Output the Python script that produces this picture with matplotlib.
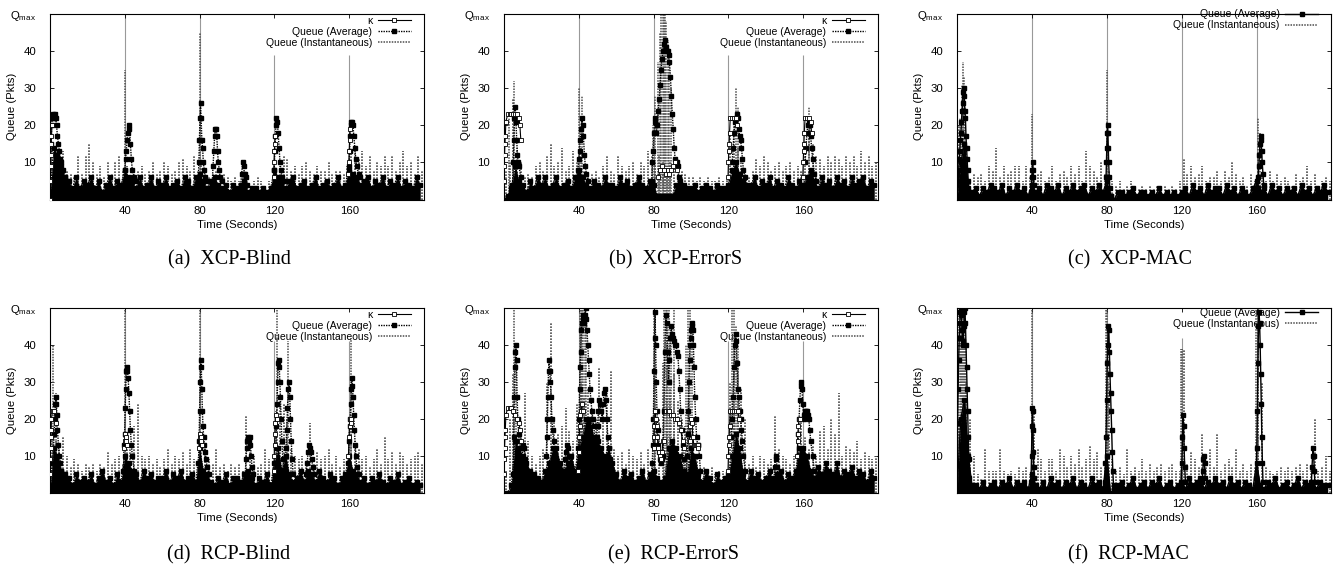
import numpy as np
import matplotlib
matplotlib.use('Agg')
import matplotlib.pyplot as plt
from matplotlib.lines import Line2D

plt.rcParams['font.family'] = ['Liberation Sans', 'DejaVu Sans']
plt.rcParams['mathtext.fontset'] = 'custom'
plt.rcParams['mathtext.rm'] = 'Liberation Sans'
plt.rcParams['mathtext.it'] = 'Liberation Sans'

nan = np.nan

# sampling times (seconds)
band_t = np.arange(0, 200, 2)
inst_t = band_t + 1
burst_t = [40, 80, 120, 160]

# ---------------- (a) XCP-Blind ----------------
band_a = [1, 14, 12, 9, 6, 5, 3, 6, 3, 5,
          4, 6, 3, 5, 2, 4, 6, 3, 5, 4,
          8, 6, 5, 3, 6, 3, 4, 6, 3, 5,
          4, 6, 3, 4, 5, 3, 6, 5, 3, 6,
          7, 5, 3, 5, 6, 4, 3, 4, 2, 4,
          3, 4, 5, 2, 3, 3, 2, 3, 2, 3,
          8, 6, 5, 3, 5, 6, 3, 4, 5, 3,
          4, 6, 3, 4, 5, 3, 4, 6, 3, 4,
          9, 7, 6, 4, 5, 6, 3, 5, 4, 6,
          3, 5, 4, 6, 3, 5, 4, 3, 6, 4]
inst_a = [14, 12, 9, 13, 8, 7, 6, 12, 7, 12,
          15, 10, 7, 9, 6, 10, 7, 10, 12, 8,
          9, 6, 7, 8, 9, 7, 8, 10, 7, 8,
          10, 9, 7, 8, 10, 11, 9, 8, 12, 8,
          10, 8, 6, 7, 8, 6, 7, 6, 5, 6,
          5, 6, 5, 4, 5, 6, 5, 4, 5, 5,
          8, 9, 12, 11, 8, 9, 7, 9, 10, 8,
          7, 9, 8, 8, 10, 7, 8, 8, 7, 9,
          13, 14, 11, 13, 9, 12, 8, 10, 9, 12,
          9, 12, 8, 10, 13, 9, 10, 7, 12, 8]
peak_t_a = [0, 0.3, 0.6, 0.9, 1.2, 1.6, 2.0, 2.5, 3.0, 3.5, 4.0, 4.5, 5.0, 5.5, 6.0, 7.0, 8.0, 9.0, nan,
            39.5, 40.0, 40.4, 40.8, 41.2, 41.6, 42.0, 42.5, 43.0, 43.5, 44.0, 45.0, 46.0, nan,
            79.3, 79.6, 79.9, 80.2, 80.5, 80.8, 81.2, 81.6, 82.0, 82.5, 83.0, 84.0, nan,
            86.8, 87.2, 87.6, 88.0, 88.4, 88.8, 89.2, 89.6, 90.0, 90.5, 91.0, 92.0, nan,
            102.0, 102.5, 103.0, 103.5, 104.0, 104.5, 105.0, 105.5, nan,
            119.6, 119.9, 120.2, 120.5, 120.8, 121.1, 121.5, 122.0, 122.5, 123.0, 123.5, 124.0, 125.0, nan,
            159.6, 159.9, 160.2, 160.5, 160.8, 161.1, 161.5, 162.0, 162.5, 163.0, 163.5, 164.0, 165.0, 166.0]
peak_q_a = [0, 9, 15, 20, 22, 23, 22, 23, 22, 20, 17, 15, 13, 11, 10, 8, 6, 5, nan,
            3, 8, 11, 13, 16, 18, 20, 19, 15, 11, 8, 6, 5, nan,
            5, 10, 16, 22, 26, 22, 16, 14, 10, 8, 6, 5, nan,
            5, 9, 13, 17, 19, 19, 17, 13, 10, 8, 6, 5, nan,
            4, 7, 10, 9, 7, 7, 6, 4, nan,
            4, 8, 13, 17, 20, 22, 21, 18, 14, 10, 8, 6, 5, nan,
            4, 8, 13, 17, 20, 21, 21, 20, 17, 14, 11, 9, 7, 6]
tall_t_a = [40.2, 80.1]
tall_q_a = [35, 45]
burst_a = [50, 50, 39, 39]
kappa_t_a = [0.0, 0.15, 0.3, 0.45, 0.6, 0.8, 1.0, nan, 119.6, 119.8, 120.0, 120.2, 120.4, nan,
             159.6, 159.8, 160.0, 160.2, 160.4]
kappa_q_a = [0, 5, 9, 12, 15, 17, 20, nan, 6, 10, 13, 15, 17, nan, 7, 10, 13, 16, 19]

# ---------------- (b) XCP-ErrorS ----------------
band_b = [0, 1, 3, 9, 5, 4, 2, 5, 3, 6,
          4, 6, 3, 4, 6, 3, 4, 5, 3, 6,
          8, 6, 4, 3, 5, 4, 3, 6, 4, 4,
          3, 6, 4, 5, 3, 4, 6, 4, 3, 5,
          4, 1, 1, 1, 1, 1, 4, 5, 4, 3,
          3, 4, 2, 3, 4, 3, 2, 4, 3, 3,
          4, 8, 10, 7, 5, 3, 4, 6, 3, 5,
          4, 6, 3, 5, 4, 3, 6, 4, 3, 5,
          4, 6, 8, 5, 3, 6, 4, 5, 3, 6,
          4, 5, 3, 6, 4, 5, 6, 3, 5, 4]
inst_b = [8, 10, 27, 14, 10, 6, 7, 6, 9, 10,
          8, 12, 15, 9, 10, 14, 8, 9, 13, 10,
          14, 8, 6, 7, 8, 6, 9, 12, 8, 7,
          12, 9, 8, 9, 10, 7, 10, 9, 13, 12,
          10, 12, 10, 9, 10, 9, 9, 8, 7, 6,
          6, 5, 6, 5, 6, 5, 5, 6, 5, 6,
          18, 22, 14, 10, 7, 6, 8, 11, 9, 12,
          10, 8, 9, 10, 8, 9, 10, 8, 9, 8,
          16, 20, 15, 12, 11, 9, 12, 10, 12, 11,
          9, 12, 10, 12, 9, 13, 10, 12, 9, 10]
peak_t_b = [3.5, 4.0, 4.5, 5.0, 5.3, 5.6, 6.0, 6.4, 6.8, 7.2, 7.6, 8.0, 9.0, nan,
            39.0, 39.5, 40.0, 40.4, 40.8, 41.2, 41.6, 42.0, 42.5, 43.0, 43.5, 44.0, 45.0, nan,
            79.0, 79.4, 79.8, 80.2, 80.6, 81.0, 81.5, 82.0, 82.5, 83.0, 83.5, 84.0, 84.5, 85.0,
            85.5, 86.0, 86.5, 87.0, 87.5, 88.0, 88.5, 89.0, 89.5, 90.0, 90.5, 91.0, 91.5, 92.0,
            92.5, 93.0, 93.5, nan,
            122.0, 122.5, 123.0, 123.5, 124.0, 124.5, 125.0, 125.5, 126.0, 126.5, 127.0, 127.5,
            128.0, 129.0, 130.0, nan,
            161.0, 161.5, 162.0, 162.5, 163.0, 163.5, 164.0, 164.5, 165.0, 166.0, 167.0]
peak_q_b = [1, 2, 4, 10, 16, 22, 25, 21, 16, 12, 10, 9, 6, nan,
            4, 8, 11, 13, 16, 19, 22, 20, 17, 12, 9, 7, 5, nan,
            5, 10, 13, 18, 22, 21, 18, 20, 24, 27, 31, 35, 38, 40,
            42, 43, 41, 40, 40, 39, 37, 33, 28, 23, 19, 14, 11, 10,
            10, 9, 6, nan,
            10, 14, 18, 21, 22, 23, 22, 19, 17, 16, 14, 11,
            8, 6, 4, nan,
            10, 14, 18, 20, 21, 20, 17, 14, 11, 7, 5]
tall_t_b = [2.5, 5.6, 40.0, 41.8, 79.5, 81.0, 82.5, 83.5, 84.2, 84.8, 85.4, 86.0, 86.8, 87.5,
            88.5, 89.5, 124.0, 125.0, 163.0]
tall_q_b = [22, 32, 30, 28, 20, 28, 37, 45, 50, 50, 50, 50, 48, 43, 38, 30, 30, 25, 25]
burst_b = [50, 50, 39, 39]
kappa_t_b = [0.0, 0.15, 0.3, 0.5, 0.7, 1.0, 2, 3, 4, 5, 6, 7, 8, 8.5, 9.0, nan,
             82.5, 83.5, 84.5, 85.5, 86.5, 87.5, 88.5, 89.5, 90.5, 91.5, 92.5, nan,
             119.8, 120.0, 120.2, 120.4, 120.6, 121, 122, 123, 124, 124.5, nan,
             159.8, 160.0, 160.2, 160.4, 160.6, 161, 162, 163, 164, 164.5]
kappa_q_b = [5, 9, 12, 15, 17, 21, 23, 23, 23, 23, 23, 23, 22, 20, 16, nan,
             6, 8, 9, 8, 7, 8, 7, 8, 9, 10, 8, nan,
             6, 10, 13, 15, 18, 22, 22, 22, 22, 20, nan,
             6, 10, 13, 15, 18, 22, 22, 22, 21, 18]

# ---------------- (c) XCP-MAC ----------------
band_c = [0, 10, 15, 3, 2, 3, 1, 3, 2, 4,
          3, 2, 4, 1, 3, 2, 4, 2, 3, 1,
          4, 2, 3, 1, 4, 3, 2, 4, 1, 3,
          2, 4, 2, 3, 4, 1, 3, 2, 4, 2,
          5, 1, 0, 2, 2, 1, 2, 3, 1, 2,
          2, 1, 2, 1, 3, 1, 2, 1, 2, 1,
          2, 3, 1, 4, 2, 3, 1, 4, 2, 3,
          3, 1, 4, 2, 3, 1, 3, 2, 1, 3,
          5, 2, 3, 1, 4, 2, 3, 1, 3, 2,
          3, 1, 4, 2, 3, 1, 3, 2, 4, 2]
inst_c = [20, 25, 15, 5, 7, 6, 7, 5, 9, 8,
          14, 6, 9, 7, 8, 9, 9, 5, 9, 6,
          6, 7, 8, 5, 6, 9, 5, 7, 8, 6,
          9, 7, 9, 5, 13, 9, 8, 6, 10, 7,
          8, 5, 4, 5, 3, 4, 5, 4, 3, 4,
          3, 4, 3, 4, 3, 4, 3, 4, 3, 5,
          11, 7, 9, 6, 7, 9, 5, 6, 6, 8,
          5, 8, 6, 10, 7, 5, 6, 4, 7, 5,
          12, 6, 5, 8, 5, 7, 5, 6, 5, 4,
          7, 5, 6, 9, 5, 7, 4, 5, 6, 5]
peak_t_c = [0.3, 0.6, 0.9, 1.2, 1.5, 1.8, 2.1, 2.4, 2.7, 3.0, 3.3, 3.6, 3.9, 4.2, 4.5, 4.8, 5.1,
            5.4, 5.7, 6.0, 6.5, nan,
            39.6, 39.8, 40.0, 40.2, 40.4, 40.6, 40.8, 41.0, 41.3, nan,
            79.4, 79.6, 79.8, 80.0, 80.2, 80.4, 80.6, 80.8, 81.0, 81.3, 81.6, 82.0, nan,
            160.6, 160.9, 161.2, 161.5, 161.8, 162.1, 162.4, 162.7, 163.0, 163.4, 163.8]
peak_q_c = [1, 5, 8, 11, 13, 16, 18, 21, 24, 26, 29, 30, 28, 24, 22, 17, 14,
            11, 8, 5, 2, nan,
            2, 4, 6, 8, 10, 8, 6, 4, 2, nan,
            2, 6, 10, 14, 18, 20, 18, 14, 10, 6, 3, 1, nan,
            3, 6, 9, 12, 15, 17, 16, 13, 10, 7, 4]
tall_t_c = [1.5, 2.5, 3.0, 3.6, 4.2, 40.0, 80.0, 161.0, 161.8]
tall_q_c = [22, 31, 37, 33, 25, 23, 35, 22, 18]
burst_c = [50, 50, 50, 50]

# ---------------- (d) RCP-Blind ----------------
band_d = [1, 12, 10, 6, 5, 4, 2, 5, 3, 4,
          3, 5, 2, 4, 6, 3, 4, 2, 5, 3,
          10, 8, 6, 5, 3, 6, 4, 5, 3, 4,
          4, 6, 3, 5, 4, 6, 3, 4, 5, 3,
          12, 6, 5, 3, 2, 4, 3, 5, 2, 4,
          4, 3, 5, 6, 4, 2, 4, 3, 5, 2,
          8, 12, 6, 10, 5, 3, 4, 6, 3, 6,
          5, 3, 6, 4, 3, 5, 4, 2, 4, 5,
          10, 6, 5, 3, 4, 2, 4, 3, 5, 3,
          2, 4, 3, 5, 2, 3, 4, 2, 3, 2]
inst_d = [18, 14, 12, 15, 10, 7, 9, 8, 6, 8,
          7, 8, 6, 8, 7, 11, 8, 9, 10, 8,
          14, 12, 18, 24, 10, 9, 10, 8, 9, 7,
          9, 12, 8, 10, 9, 11, 8, 12, 9, 7,
          15, 12, 9, 8, 12, 7, 8, 6, 8, 7,
          8, 6, 21, 12, 10, 7, 8, 12, 9, 8,
          22, 26, 24, 20, 12, 10, 9, 10, 8, 19,
          8, 11, 9, 10, 12, 8, 10, 7, 9, 8,
          20, 14, 12, 9, 10, 7, 9, 12, 8, 15,
          9, 11, 8, 11, 10, 8, 9, 10, 11, 8]
peak_t_d = [1.6, 1.9, 2.2, 2.5, 2.8, 3.1, 3.4, 3.7, 4.0, 4.5, 5.0, 5.5, 6.0, 7.0, nan,
            39.3, 39.6, 39.9, 40.2, 40.5, 40.8, 41.1, 41.4, 41.8, 42.2, 42.6, 43.0, 43.5, 44.0, 45.0, nan,
            79.4, 79.7, 80.0, 80.3, 80.6, 80.9, 81.2, 81.5, 81.8, 82.2, 82.6, 83.0, 83.5, 84.0, 85.0, nan,
            104.4, 104.8, 105.2, 105.6, 106.0, 106.4, 106.8, 107.2, 107.6, 108.0, 108.5, nan,
            120.8, 121.1, 121.4, 121.7, 122.0, 122.3, 122.6, 122.9, 123.2, 123.6, 124.0, 124.5, 125.0, nan,
            125.8, 126.2, 126.6, 127.0, 127.4, 127.8, 128.2, 128.6, 129.0, 129.5, 130.0, nan,
            137.0, 137.5, 138.0, 138.5, 139.0, 139.5, 140.0, 140.5, 141.0, nan,
            159.6, 159.9, 160.2, 160.5, 160.8, 161.1, 161.4, 161.7, 162.0, 162.4, 162.8, 163.2, 163.6, 164.0, 165.0]
peak_q_d = [8, 12, 16, 20, 24, 26, 24, 21, 17, 13, 10, 8, 6, 5, nan,
            6, 13, 16, 23, 28, 33, 34, 33, 31, 27, 22, 17, 13, 10, 6, nan,
            8, 14, 22, 30, 36, 34, 28, 22, 18, 15, 13, 11, 9, 7, 5, nan,
            5, 9, 12, 14, 15, 14, 15, 13, 10, 7, 5, nan,
            12, 18, 24, 30, 35, 36, 34, 30, 26, 20, 14, 9, 5, nan,
            6, 12, 17, 23, 28, 30, 26, 20, 14, 9, 5, nan,
            5, 8, 11, 13, 12, 11, 9, 7, 5, nan,
            8, 14, 18, 20, 24, 28, 31, 29, 26, 21, 17, 13, 10, 7, 5]
tall_t_d = [1.8, 3.0, 40.0, 80.0, 121.6, 127.2, 161.0]
tall_q_d = [40, 27, 50, 50, 50, 41, 42]
burst_d = [50, 50, 41, 41]
kappa_t_d = [0.0, 0.15, 0.3, 0.45, 0.6, 0.8, 1.2, 1.8, 2.4, 3.0, nan,
             39.6, 39.9, 40.2, 40.5, 40.8, 41.2, nan,
             79.8, 80.1, 80.4, 80.7, 81.0, 81.5, nan,
             119.7, 119.9, 120.1, 120.3, 120.5, 120.8, 121.2, nan,
             159.6, 159.9, 160.2, 160.5, 160.8, 161.2]
kappa_q_d = [5, 9, 12, 15, 17, 20, 22, 22, 22, 19, nan,
             12, 14, 16, 15, 14, 13, nan,
             12, 15, 16, 15, 14, 13, nan,
             6, 10, 13, 16, 19, 21, 20, nan,
             10, 15, 18, 20, 20, 19]

# ---------------- (e) RCP-ErrorS ----------------
band_e = [0, 0, 2, 14, 12, 10, 8, 6, 5, 4,
          3, 6, 8, 12, 12, 8, 6, 8, 10, 6,
          12, 15, 20, 20, 15, 14, 12, 10, 12, 8,
          5, 3, 6, 4, 5, 3, 4, 6, 3, 5,
          6, 4, 3, 4, 12, 14, 12, 10, 6, 4,
          12, 10, 5, 3, 6, 4, 2, 5, 3, 4,
          5, 10, 16, 12, 5, 3, 6, 4, 5, 3,
          4, 6, 3, 5, 6, 3, 5, 4, 6, 12,
          12, 10, 6, 4, 7, 5, 8, 6, 5, 8,
          4, 6, 5, 7, 4, 6, 5, 3, 6, 4]
inst_e = [6, 20, 32, 14, 12, 27, 14, 10, 8, 10,
          12, 30, 46, 20, 16, 18, 23, 17, 14, 24,
          30, 26, 28, 22, 20, 34, 22, 27, 33, 12,
          10, 11, 8, 12, 10, 9, 11, 8, 12, 8,
          30, 20, 35, 40, 28, 32, 25, 20, 18, 30,
          20, 10, 6, 7, 6, 7, 5, 6, 6, 5,
          30, 40, 35, 28, 20, 8, 10, 7, 10, 9,
          8, 9, 21, 12, 10, 9, 8, 10, 12, 20,
          15, 12, 13, 10, 17, 18, 12, 20, 16, 27,
          10, 13, 12, 11, 14, 9, 11, 10, 9, 10]
peak_t_e = [4.6, 4.9, 5.2, 5.5, 5.8, 6.1, 6.4, 6.7, 7.0, 7.4, 7.8, 8.2, 9.0, nan,
            9.6, 10.0, 10.4, 10.8, 11.2, 11.6, nan,
            22.6, 22.9, 23.2, 23.5, 23.8, 24.1, 24.4, 24.8, 25.2, 25.6, 26.0, 26.5, 27.0, nan,
            32.0, 32.5, 33.0, 33.5, 34.0, 34.5, 35.0, 35.5, nan,
            39.5, 39.8, 40.1, 40.4, 40.7, 41.0, 41.3, 41.6, 42.0, 42.4, 42.8, 43.2, 43.6, 44.0,
            44.4, 44.8, 45.2, 45.6, 46.0, 46.5, 47.0, 47.5, 48.0, 48.5, nan,
            49.0, 49.5, 50.0, 50.5, 51.0, 51.5, 52.0, 52.5, 53.0, 53.5, 54.0, 54.5, 55.0, 55.5,
            56.0, 56.5, 57.0, nan,
            79.0, 79.3, 79.6, 79.9, 80.2, 80.5, 80.8, 81.1, 81.4, 81.8, 82.2, 82.6, 83.0, 83.5,
            84.0, 84.5, nan,
            85.0, 85.5, 86.0, 86.5, 87.0, 87.5, 88.0, 88.5, 89.0, 89.5, 90.0, 90.5, 91.0, 91.5,
            92.0, 92.5, 93.0, 93.5, 94.0, 94.5, 95.0, 95.5, 96.0, 96.5, 97.0, nan,
            97.5, 98.0, 98.3, 98.6, 98.9, 99.2, 99.5, 99.8, 100.1, 100.4, 100.7, 101.0, 101.3,
            101.6, 102.0, 102.5, 103.0, 103.5, 104.0, 104.5, 105.0, nan,
            121.5, 122.0, 122.5, 123.0, 123.4, 123.8, 124.2, 124.6, 125.0, 125.5, 126.0, 126.5,
            127.0, 127.5, 128.0, 129.0, nan,
            144.4, 144.8, 145.2, 145.6, 146.0, 146.4, nan,
            156.6, 157.0, 157.4, 157.8, 158.2, 158.6, 159.0, 159.4, 159.8, 160.2, 160.6, 161.0,
            161.5, 162.0, 162.5, 163.0, 163.5, 164.0, 165.0, 166.0]
peak_q_e = [2, 5, 15, 26, 34, 38, 40, 36, 26, 20, 16, 14, 12, nan,
            8, 12, 13, 12, 9, 6, nan,
            10, 15, 20, 26, 33, 36, 33, 30, 26, 20, 17, 14, 10, nan,
            6, 9, 11, 13, 12, 10, 8, 6, nan,
            6, 12, 20, 28, 34, 38, 44, 46, 48, 47, 46, 48, 50, 47,
            44, 40, 36, 32, 28, 25, 22, 20, 18, 15, nan,
            12, 15, 18, 22, 25, 24, 22, 20, 24, 27, 28, 25, 20, 15,
            12, 9, 6, nan,
            5, 8, 13, 20, 33, 42, 49, 40, 30, 22, 17, 13, 11, 9,
            8, 9, nan,
            10, 22, 38, 48, 46, 38, 30, 36, 42, 45, 43, 42, 41, 40,
            40, 38, 37, 33, 28, 22, 17, 13, 9, 5, 3, nan,
            5, 10, 16, 22, 30, 36, 40, 42, 44, 45, 46, 44, 40,
            34, 26, 20, 15, 13, 13, 10, 6, nan,
            15, 20, 26, 34, 40, 43, 41, 35, 28, 26, 22, 20,
            17, 14, 10, 6, nan,
            4, 7, 10, 9, 7, 4, nan,
            5, 10, 16, 20, 25, 29, 30, 28, 24, 20, 21, 22,
            22, 22, 21, 20, 17, 14, 10, 6]
tall_t_e = [5.5, 6.5, 40.5, 41.2, 41.8, 42.5, 43.2, 44.0, 80.0, 81.0, 85.5, 86.5, 87.2, 88.0,
            89.5, 91.0, 97.5, 98.5, 99.5, 100.5, 122.0, 123.0, 124.0, 125.0]
tall_q_e = [50, 40, 50, 50, 50, 50, 50, 45, 50, 42, 50, 50, 50, 50,
            45, 50, 40, 50, 50, 45, 50, 50, 45, 40]
burst_e = [50, 50, 41, 41]
kappa_t_e = [0.0, 0.15, 0.3, 0.5, 0.7, 1.0, 2, 3, 4, 5, 6, 7, 8, 8.6, 9.2, nan,
             39.8, 40.0, 40.2, 40.4, 40.6, 41.0, 41.5, 42.0, nan,
             80.0, 80.2, 80.4, 80.6, 80.8, 81.2, 81.6, 82.0, 82.5, 83.0, 83.5, 84.0, 84.5, 85.0, 85.4, nan,
             86.5, 87.5, 88.5, 89.5, 90.5, 91.5, 92.5, 93.5, 94.5, 95.5, 96.5, nan,
             99.2, 99.6, 100.0, 100.5, 101.0, 101.5, 102.0, 102.5, 103.0, 103.5, 104.0, nan,
             119.8, 120.0, 120.2, 120.4, 120.6, 121.0, 122.0, 123.0, 124.0, 125.0, 125.8, nan,
             156.8, 157.0, 157.2, 157.4, 157.8, 158.2]
kappa_q_e = [5, 9, 12, 15, 17, 21, 23, 23, 23, 22, 21, 20, 19, 17, 14, nan,
             6, 11, 15, 18, 21, 22, 24, 22, nan,
             12, 15, 18, 20, 22, 20, 18, 15, 12, 11, 10, 9, 11, 14, 14, nan,
             22, 22, 22, 21, 21, 20, 20, 19, 17, 14, 12, nan,
             14, 18, 20, 19, 15, 13, 13, 13, 13, 13, 12, nan,
             6, 10, 13, 15, 18, 22, 22, 22, 22, 22, 20, nan,
             10, 14, 16, 18, 20, 20]

# ---------------- (f) RCP-MAC ----------------
band_f = [0, 20, 25, 10, 2, 2, 1, 3, 1, 2,
          3, 1, 3, 2, 4, 1, 3, 2, 3, 1,
          5, 2, 1, 3, 1, 4, 2, 3, 1, 3,
          2, 4, 1, 3, 2, 1, 4, 2, 3, 1,
          10, 0, 1, 2, 3, 1, 2, 4, 1, 2,
          3, 1, 3, 2, 4, 1, 2, 3, 1, 2,
          3, 1, 4, 2, 3, 4, 1, 3, 2, 4,
          2, 3, 1, 4, 2, 3, 1, 3, 2, 1,
          8, 2, 1, 3, 2, 4, 1, 2, 3, 1,
          2, 4, 1, 3, 2, 3, 1, 3, 2, 2]
inst_f = [20, 25, 30, 20, 10, 5, 4, 12, 6, 6,
          6, 12, 6, 5, 6, 5, 7, 6, 7, 5,
          22, 12, 9, 6, 9, 9, 6, 12, 10, 7,
          10, 8, 12, 7, 9, 13, 9, 11, 7, 8,
          30, 9, 6, 7, 5, 12, 6, 7, 6, 9,
          6, 8, 6, 7, 8, 6, 7, 8, 6, 6,
          39, 8, 11, 9, 7, 16, 8, 12, 7, 16,
          6, 8, 9, 7, 12, 6, 8, 6, 8, 7,
          50, 30, 7, 6, 5, 6, 7, 6, 7, 6,
          7, 8, 6, 8, 7, 20, 6, 7, 10, 6]
peak_t_f = [0.0, 0.3, 0.6, 0.9, 1.2, 1.5, 1.8, 2.1, 2.4, 2.7, 3.0, 3.3, 3.6, 3.9, 4.2, 4.5,
            4.8, 5.1, 5.4, 5.7, 6.0, 6.3, 6.6, 7.0, nan,
            39.5, 39.8, 40.0, 40.2, 40.4, 40.6, 40.8, 41.0, 41.3, 41.6, nan,
            79.0, 79.3, 79.6, 79.9, 80.2, 80.5, 80.8, 81.1, 81.4, 81.7, 82.0, 82.3, 82.6, 82.9,
            83.2, 83.6, nan,
            119.8, 120.1, 120.4, 120.7, 121.0, 121.3, 121.6, 122.0, nan,
            131.0, 131.3, 131.6, 131.9, 132.2, 132.5, nan,
            159.8, 160.1, 160.4, 160.7, 161.0, 161.3, 161.6, 161.9, 162.2, 162.5, 162.8, 163.1,
            163.4, nan,
            189.3, 189.6, 189.9, 190.2, 190.5, 190.8, 191.1]
peak_q_f = [0, 19, 28, 36, 42, 46, 49, 50, 48, 44, 40, 41, 45, 49, 50, 46,
            40, 34, 28, 22, 15, 9, 4, 2, nan,
            3, 10, 18, 23, 22, 17, 11, 7, 4, 2, nan,
            3, 8, 15, 25, 35, 40, 45, 44, 38, 32, 27, 22, 17, 11,
            6, 2, nan,
            3, 8, 15, 21, 18, 12, 7, 3, nan,
            3, 6, 9, 10, 8, 4, nan,
            4, 12, 22, 35, 45, 49, 46, 40, 32, 24, 15, 8,
            3, nan,
            3, 7, 10, 12, 10, 6, 3]
tall_t_f = [0.2, 0.8, 1.4, 2.0, 2.6, 3.2, 3.8, 4.4, 5.0, 39.8, 79.4, 80.2, 80.8, 119.8,
            120.4, 159.8, 160.6]
tall_q_f = [25, 50, 50, 50, 50, 45, 50, 50, 40, 50, 50, 50, 45, 39, 39, 50, 50]
burst_f = [50, 50, 42, 50]

panels = [
    ('(a)  XCP-Blind', band_a, inst_a, peak_t_a, peak_q_a, tall_t_a, tall_q_a, burst_a, kappa_t_a, kappa_q_a),
    ('(b)  XCP-ErrorS', band_b, inst_b, peak_t_b, peak_q_b, tall_t_b, tall_q_b, burst_b, kappa_t_b, kappa_q_b),
    ('(c)  XCP-MAC', band_c, inst_c, peak_t_c, peak_q_c, tall_t_c, tall_q_c, burst_c, None, None),
    ('(d)  RCP-Blind', band_d, inst_d, peak_t_d, peak_q_d, tall_t_d, tall_q_d, burst_d, kappa_t_d, kappa_q_d),
    ('(e)  RCP-ErrorS', band_e, inst_e, peak_t_e, peak_q_e, tall_t_e, tall_q_e, burst_e, kappa_t_e, kappa_q_e),
    ('(f)  RCP-MAC', band_f, inst_f, peak_t_f, peak_q_f, tall_t_f, tall_q_f, burst_f, None, None),
]

W, H = 1333, 565
fig = plt.figure(figsize=(W / 100, H / 100), dpi=100)

# axes boxes in pixels: left, top, right, bottom
boxes = [(50, 14, 424, 199.6), (504, 14, 878, 199.6), (957, 14, 1331.5, 199.6),
         (50, 308, 424, 492.7), (504, 308, 878, 492.7), (957, 308, 1331.5, 492.7)]
caption_x = [229, 676, 1130, 229, 674, 1128]
caption_y = [264, 264, 264, 559, 559, 559]
legend_top = [0.99, 0.99, 1.025, 0.99, 0.99, 1.0]

dot = (0, (1, 0.8))

for i, (cap, band, inst, pk_t, pk_q, tl_t, tl_q, burst, k_t, k_q) in enumerate(panels):
    l, t, r, b = boxes[i]
    ax = fig.add_axes([l / W, 1 - b / H, (r - l) / W, (b - t) / H])
    has_kappa = k_t is not None
    avg_ls = dot if has_kappa else '-'

    # kappa bursts at the error instants
    ax.vlines(burst_t, 0, burst, colors='0.6', lw=0.8, zorder=1)

    # instantaneous queue
    ax.vlines(inst_t, 0, inst, colors='0.3', lw=1.2, linestyles=dot, zorder=2)
    ax.vlines(tl_t, 0, tl_q, colors='0.3', lw=1.1, linestyles=dot, zorder=2)

    # average queue: dense band plus peaks
    ax.fill_between(band_t, 0, band, color='black', lw=0, zorder=3)
    ax.plot(band_t, band, color='black', ls=avg_ls, lw=1, marker='s', ms=3, zorder=3)
    ax.plot(pk_t, pk_q, color='black', ls=avg_ls, lw=1, marker='s', ms=3, zorder=4)

    if has_kappa:
        ax.plot(k_t, k_q, color='black', lw=0.8, marker='s', ms=3.2, mfc='white',
                mec='black', mew=0.6, zorder=5)

    ax.set_xlim(0, 200)
    ax.set_ylim(0, 50)
    ax.set_xticks([40, 80, 120, 160])
    ax.set_yticks([10, 20, 30, 40, 50])
    ax.set_yticklabels(['10', '20', '30', '40', 'Q$_{\\mathrm{max}}$'])
    ax.tick_params(direction='in', length=3, width=0.6, top=True, right=True, labelsize=8.2)
    ax.tick_params(axis='y', pad=10)
    ax.tick_params(axis='x', pad=4.5)
    for sp in ax.spines.values():
        sp.set_linewidth(0.8)
    ax.set_xlabel('Time (Seconds)', fontsize=8.2, labelpad=3)
    ax.set_ylabel('Queue (Pkts)', fontsize=8.2)
    ax.yaxis.set_label_coords(-0.088, 0.5)

    handles = []
    labels = []
    if has_kappa:
        handles.append(Line2D([], [], color='black', lw=0.8, marker='s', ms=3.2, mfc='white',
                              mec='black', mew=0.6))
        labels.append('κ')
    handles.append(Line2D([], [], color='black', ls=avg_ls, lw=1, marker='s', ms=3))
    labels.append('Queue (Average)')
    handles.append(Line2D([], [], color='0.3', ls=dot, lw=1.1))
    labels.append('Queue (Instantaneous)')
    leg = ax.legend(handles, labels, loc='upper right', bbox_to_anchor=(0.965, legend_top[i]),
                    frameon=False, markerfirst=False, fontsize=7.5, handlelength=3.2,
                    handletextpad=0.5, labelspacing=0.1, borderaxespad=0, borderpad=0)
    leg.set_zorder(1.5)

    fig.text(caption_x[i] / W, 1 - caption_y[i] / H, cap, family='Liberation Serif',
             fontsize=14.5, ha='center', va='baseline')

fig.savefig('out.png', dpi=100)
